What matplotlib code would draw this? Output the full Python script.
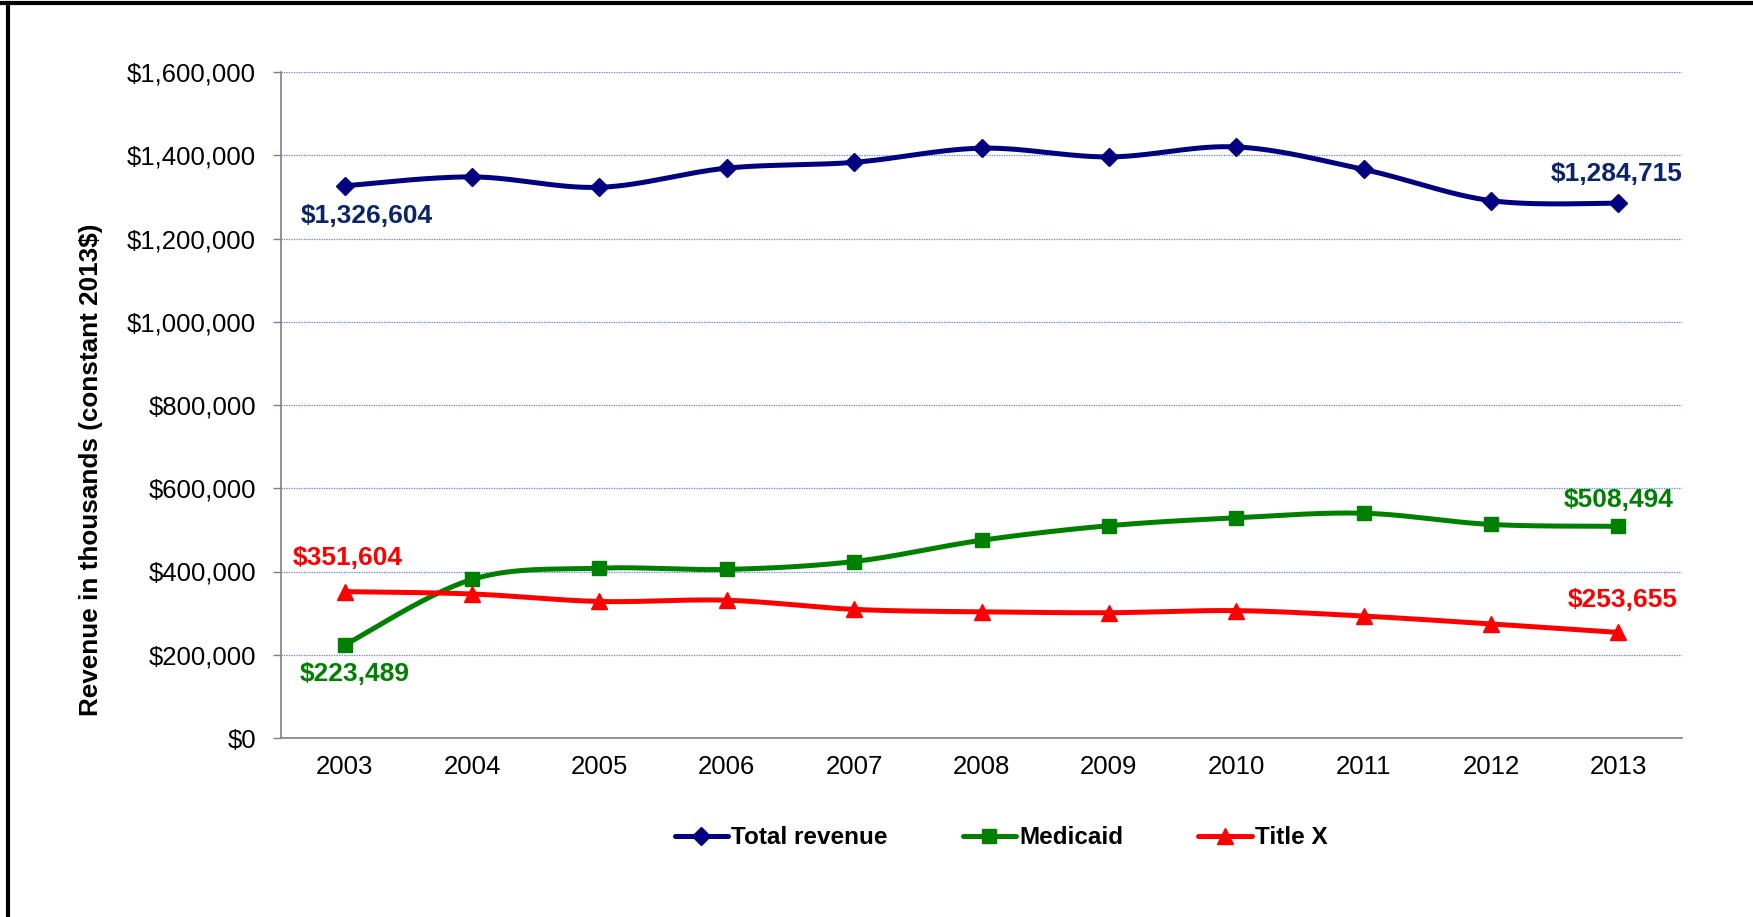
import numpy as np
import matplotlib
matplotlib.use('Agg')
import matplotlib.pyplot as plt
from matplotlib.lines import Line2D
from matplotlib.ticker import FuncFormatter

plt.rcParams['font.family'] = ['Liberation Sans', 'DejaVu Sans']

years = ['2003', '2004', '2005', '2006', '2007', '2008', '2009', '2010', '2011', '2012', '2013']
total_revenue = [1326604, 1348000, 1323000, 1369000, 1383000, 1417000, 1396000, 1420000, 1366000, 1291000, 1284715]
medicaid = [223489, 381000, 408000, 405000, 424000, 475000, 510000, 529000, 540000, 513000, 508494]
title_x = [351604, 346000, 328000, 331000, 309000, 303000, 301000, 306000, 293000, 274000, 253655]

navy = '#000080'
navy_text = '#0b2569'
green = '#008000'
red = '#ff0000'


def smooth(xs, ys, n=30):
    # bezier segments with catmull-rom style control points
    p = np.column_stack([xs, ys]).astype(float)
    ext = np.vstack([p[0], p, p[-1]])
    out = []
    for i in range(len(p) - 1):
        p0, p1, p2, p3 = ext[i], ext[i + 1], ext[i + 2], ext[i + 3]
        c1 = p1 + (p2 - p0) / 6.0
        c2 = p2 - (p3 - p1) / 6.0
        t = np.linspace(0, 1, n)[:, None]
        seg = (1 - t) ** 3 * p1 + 3 * (1 - t) ** 2 * t * c1 + 3 * (1 - t) * t ** 2 * c2 + t ** 3 * p2
        out.append(seg if i == 0 else seg[1:])
    seg = np.vstack(out)
    return seg[:, 0], seg[:, 1]


fig = plt.figure(figsize=(17.53, 9.17), dpi=100)
ax = fig.add_axes([281 / 1753, 1 - 738 / 917, 1401 / 1753, 666 / 917])

x = np.arange(len(years))
series = [
    ('Total revenue', total_revenue, navy, 'D', 9),
    ('Medicaid', medicaid, green, 's', 10),
    ('Title X', title_x, red, '^', 11),
]
handles = []
for name, vals, col, mk, ms in series:
    sx, sy = smooth(x, vals)
    ax.plot(sx, sy, color=col, lw=3.6, solid_capstyle='round', zorder=3)
    ax.plot(x, vals, ls='none', marker=mk, ms=ms, color=col, zorder=4)
    handles.append(Line2D([], [], color=col, lw=3.6, marker=mk, ms=ms, solid_capstyle='round'))

# end-point value labels
labels = [
    (0, total_revenue[0], navy_text, (16, -22)),
    (10, total_revenue[10], navy_text, (-1, 21)),
    (10, medicaid[10], green, (0, 19)),
    (0, medicaid[0], green, (7, -21)),
    (0, title_x[0], red, (2, 24)),
    (10, title_x[10], red, (3, 23)),
]
for i, v, col, off in labels:
    ax.annotate('${:,.0f}'.format(v), (i, v), xytext=off, textcoords='offset points',
                ha='center', va='center', fontsize=19, fontweight='bold', color=col, zorder=5)

ax.set_xlim(-0.5, len(years) - 0.5)
ax.set_ylim(0, 1600000)
ax.set_yticks(np.arange(0, 1600001, 200000))
ax.yaxis.set_major_formatter(FuncFormatter(lambda v, p: '${:,.0f}'.format(v)))
ax.set_xticks(x)
ax.set_xticklabels(years)
ax.tick_params(axis='y', labelsize=18.5, length=6, width=1, color='#808080', pad=12)
ax.tick_params(axis='x', labelsize=18.5, length=0, pad=12)
ax.grid(axis='y', color='#5a7be8', ls=(0, (1, 1)), lw=0.9)
ax.set_axisbelow(True)
for s in ['top', 'right']:
    ax.spines[s].set_visible(False)
for s in ['left', 'bottom']:
    ax.spines[s].set_color('#808080')
    ax.spines[s].set_linewidth(1.2)

fig.text(91 / 1753, 1 - 470 / 917, 'Revenue in thousands (constant 2013$)', rotation=90,
         ha='center', va='center', fontsize=18.8, fontweight='bold')

fig.legend(handles, [s[0] for s in series], loc='center', bbox_to_anchor=(1001 / 1753, 1 - 838 / 917),
           ncol=3, frameon=False, handlelength=2.2, handletextpad=0.12, columnspacing=3.1,
           prop={'weight': 'bold', 'size': 17.5})

# frame edges
fig.add_artist(Line2D([0, 1], [1 - 3 / 917, 1 - 3 / 917], transform=fig.transFigure, color='black', lw=3))
fig.add_artist(Line2D([8 / 1753, 8 / 1753], [0, 1 - 3 / 917], transform=fig.transFigure, color='black', lw=3))

fig.savefig('out.png', dpi=100)
